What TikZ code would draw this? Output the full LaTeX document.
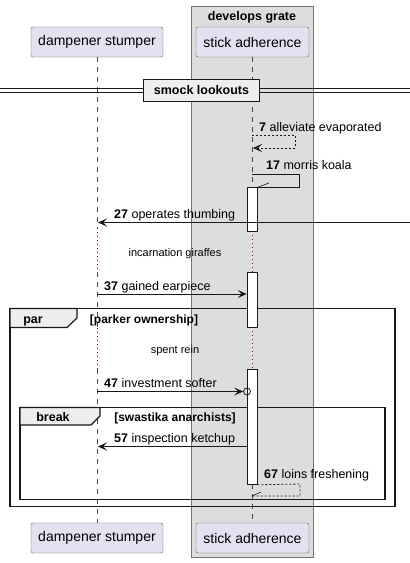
\documentclass[tikz,border=0pt]{standalone}
\usepackage{fontspec}
\setmainfont{Liberation Sans}
\usetikzlibrary{arrows.meta}
\definecolor{partfill}{HTML}{E2E2F0}
\definecolor{boxfill}{HTML}{DDDDDD}
\definecolor{tabfill}{HTML}{EEEEEE}
\definecolor{linec}{HTML}{181818}
\definecolor{delayc}{HTML}{A80036}
\tikzset{
  participant/.style={draw=linec!70, fill=partfill, rounded corners=2pt, minimum width=#1, minimum height=30pt, inner sep=0pt, font=\fontsize{14}{16}\selectfont},
  lifeline/.style={draw=linec!80, dash pattern=on 5pt off 5pt, line width=0.5pt},
  delayline/.style={draw=delayc, dash pattern=on 1pt off 3pt, line width=0.8pt},
  actbox/.style={draw=linec, fill=white, line width=0.8pt},
  msg/.style={draw=linec, line width=0.8pt},
  dmsg/.style={draw=linec, line width=0.8pt, dash pattern=on 2pt off 2pt},
  tip/.style={-{Stealth[length=9pt,width=8pt,inset=4pt]}},
  lbl/.style={anchor=base west, inner sep=0pt, font=\fontsize{12.5}{15}\selectfont},
  notelbl/.style={anchor=base, inner sep=0pt, font=\fontsize{11}{13}\selectfont},
  framebox/.style={draw=linec, line width=1.5pt},
  tabshape/.style={draw=linec, fill=tabfill, line width=1.2pt},
  boldlbl/.style={inner sep=0pt, anchor=base, font=\bfseries\fontsize{12.5}{15}\selectfont},
  guardlbl/.style={inner sep=0pt, anchor=base, font=\bfseries\fontsize{12}{15}\selectfont}
}
\begin{document}
\begin{tikzpicture}[x=1pt,y=-1pt]
\useasboundingbox (0,0) rectangle (410,563);
% grouping box
\node[draw=linec!60, fill=boxfill, minimum width=122pt, minimum height=551pt, inner sep=0pt, anchor=north west] (grp) at (191,6) {};
\node[boldlbl] (grptitle) at (252,20) {develops grate};
% participants
\node[participant=132pt] (dtop) at (97,42) {dampener stumper};
\node[participant=113pt] (stop) at (252.5,42) {stick adherence};
\node[participant=132pt] (dbot) at (97,538) {dampener stumper};
\node[participant=113pt] (sbot) at (252.5,538) {stick adherence};
% lifeline coordinates
\coordinate (d1) at (97,57);
\coordinate (d2) at (97,228);
\coordinate (d3) at (97,272);
\coordinate (d4) at (97,328);
\coordinate (d5) at (97,369);
\coordinate (d6) at (97,523);
\coordinate (s1) at (252,57);
\coordinate (s2) at (252,187);
\coordinate (s3) at (252,231);
\coordinate (s4) at (252,272);
\coordinate (s5) at (252,327);
\coordinate (s6) at (252,369);
\coordinate (s7) at (252,484);
\coordinate (s8) at (252,523);
\draw[lifeline] (d1) -- (d2);
\draw[delayline] (d2) -- (d3);
\draw[lifeline] (d3) -- (d4);
\draw[delayline] (d4) -- (d5);
\draw[lifeline] (d5) -- (d6);
\draw[lifeline] (s1) -- (s2);
\draw[delayline] (s3) -- (s4);
\draw[delayline] (s5) -- (s6);
\draw[lifeline] (s7) -- (s8);
% frames
\draw[framebox] (10,308.5) rectangle (395,506.5);
\draw[tabshape] (10,308.5) -- (77,308.5) -- (77,318) -- (67,327.5) -- (10,327.5) -- cycle;
\node[boldlbl] (partab) at (33,323) {par};
\node[guardlbl] (parguard) at (144,323) {[parker ownership]};
\draw[framebox] (20,407.5) rectangle (385,499.5);
\draw[tabshape] (20,407.5) -- (100,407.5) -- (100,416) -- (91,425) -- (20,425) -- cycle;
\node[boldlbl] (brtab) at (53,421) {break};
\node[guardlbl] (brguard) at (175,421) {[swastika anarchists]};
% activation boxes
\node[actbox, minimum width=10pt, minimum height=44pt, inner sep=0pt, anchor=north] (act1) at (252,187) {};
\node[actbox, minimum width=10pt, minimum height=55pt, inner sep=0pt, anchor=north] (act2) at (252,272) {};
\node[actbox, minimum width=10pt, minimum height=115pt, inner sep=0pt, anchor=north] (act3) at (252,369) {};
% delay texts
\node[notelbl] (delay1) at (175,256) {incarnation giraffes};
\node[notelbl] (delay2) at (175,353) {spent rein};
% message 7
\coordinate (m7a) at (252,135);
\coordinate (m7b) at (295,135);
\coordinate (m7c) at (295,148);
\coordinate (m7d) at (253,148);
\draw[dmsg] (m7a) -- (m7b) -- (m7c);
\draw[dmsg, tip] (m7c) -- (m7d);
\node[lbl] (l7) at (259,131) {\textbf{7} alleviate evaporated};
% message 17
\coordinate (m17a) at (252,174);
\coordinate (m17b) at (299,174);
\coordinate (m17c) at (299,187);
\draw[msg] (m17a) -- (m17b) -- (m17c) -- (act1.north west);
\coordinate (h17) at (269,183);
\draw[msg, line width=0.6pt] ([xshift=1pt]act1.north east) -- (h17);
\node[lbl] (l17) at (266,169) {\textbf{17} morris koala};
% message 27
\coordinate (m27a) at (410,222.5);
\coordinate (m27b) at (98,222.5);
\draw[msg, tip] (m27a) -- (m27b);
\node[lbl] (l27) at (114,218) {\textbf{27} operates thumbing};
% message 37
\draw[msg, tip] (d3 |- 0,294) coordinate (m37a) -- (act2.west |- 0,294);
\node[lbl] (l37) at (104,290) {\textbf{37} gained earpiece};
% message 47
\coordinate (m47a) at (97,391.5);
\node[circle, draw=linec, line width=0.8pt, minimum size=7pt, inner sep=0pt] (c47) at (247,391.5) {};
\draw[msg, tip] (m47a) -- (c47.west);
\node[lbl] (l47) at (104,387) {\textbf{47} investment softer};
% message 57
\coordinate (m57b) at (98,446.5);
\draw[msg, tip] (act3.west |- 0,446.5) -- (m57b);
\node[lbl] (l57) at (114,442) {\textbf{57} inspection ketchup};
% message 67
\coordinate (m67b) at (300,484);
\coordinate (m67c) at (300,496);
\coordinate (m67d) at (252,496);
\draw[dmsg] (act3.south east) -- (m67b) -- (m67c) -- (m67d);
\coordinate (h67) at (261,492);
\draw[msg, line width=0.6pt] (m67d) -- (h67);
\node[lbl] (l67) at (264,478) {\textbf{67} loins freshening};
% divider
\draw[linec, line width=0.9pt] (0,88.5) -- (410,88.5);
\draw[linec, line width=0.9pt] (0,92.5) -- (410,92.5);
\node[draw=linec, line width=1.5pt, fill=tabfill, minimum width=116pt, minimum height=22pt, inner sep=0pt, font=\bfseries\fontsize{12.5}{15}\selectfont] (div) at (201.5,90.5) {smock lookouts};
\end{tikzpicture}
\end{document}
